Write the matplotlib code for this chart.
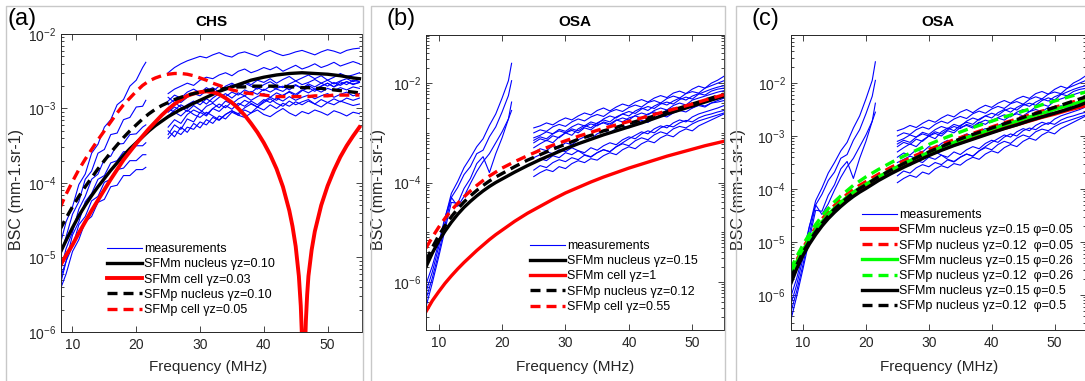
import numpy as np
import matplotlib
matplotlib.use("Agg")
import matplotlib.pyplot as plt
from matplotlib import ticker
from matplotlib.lines import Line2D
from matplotlib.transforms import Affine2D

plt.rcParams['font.family'] = ['Liberation Sans', 'DejaVu Sans']
plt.rcParams['mathtext.fontset'] = 'custom'
plt.rcParams['mathtext.rm'] = 'Liberation Sans'
plt.rcParams['mathtext.it'] = 'Liberation Sans:italic'
plt.rcParams['mathtext.bf'] = 'Liberation Sans:bold'

# ------------------------------------------------------------------ data
# all BSC values below are log10(BSC in mm-1.sr-1)
freq_ticks = [10, 20, 30, 40, 50]
freq_low = [8, 9, 10, 11, 12, 13, 14, 15, 16, 17, 18, 19, 20, 21, 21.5]
freq_high = list(range(25, 56))

# ---- panel (a) CHS
chs_low = [
    [-4.85, -4.52, -4.32, -4.02, -3.88, -3.60, -3.48, -3.25, -3.15, -2.95, -2.88, -2.70, -2.62, -2.45, -2.38],
    [-5.00, -4.72, -4.42, -4.25, -3.95, -3.84, -3.60, -3.55, -3.35, -3.33, -3.15, -3.12, -2.98, -2.97, -2.89],
    [-5.22, -4.88, -4.66, -4.35, -4.18, -3.95, -3.88, -3.68, -3.64, -3.48, -3.47, -3.35, -3.34, -3.25, -3.22],
    [-5.30, -5.05, -4.70, -4.52, -4.25, -4.14, -3.95, -3.90, -3.73, -3.70, -3.58, -3.58, -3.50, -3.50, -3.46],
    [-5.40, -5.05, -4.85, -4.56, -4.45, -4.24, -4.18, -3.99, -3.95, -3.82, -3.80, -3.70, -3.70, -3.62, -3.62],
    [-5.45, -5.22, -4.92, -4.76, -4.52, -4.45, -4.26, -4.22, -4.05, -4.03, -3.90, -3.90, -3.82, -3.82, -3.79],
]
chs_high = [
    [-2.52, -2.45, -2.40, -2.36, -2.33, -2.30, -2.32, -2.28, -2.25, -2.29, -2.31, -2.26, -2.24, -2.27, -2.30, -2.25,
     -2.22, -2.26, -2.29, -2.27, -2.24, -2.22, -2.25, -2.28, -2.24, -2.21, -2.23, -2.26, -2.22, -2.20, -2.19],
    [-2.80, -2.74, -2.70, -2.66, -2.69, -2.62, -2.58, -2.60, -2.55, -2.52, -2.56, -2.50, -2.47, -2.52, -2.49, -2.45,
     -2.48, -2.44, -2.50, -2.46, -2.42, -2.47, -2.44, -2.40, -2.45, -2.42, -2.38, -2.43, -2.40, -2.37, -2.40],
    [-2.95, -2.88, -2.92, -2.85, -2.80, -2.83, -2.76, -2.72, -2.78, -2.70, -2.66, -2.71, -2.64, -2.68, -2.62, -2.65,
     -2.60, -2.66, -2.61, -2.57, -2.63, -2.59, -2.55, -2.60, -2.56, -2.62, -2.58, -2.53, -2.57, -2.55, -2.52],
    [-3.10, -3.02, -2.95, -3.00, -2.92, -2.88, -2.94, -2.86, -2.80, -2.84, -2.78, -2.82, -2.75, -2.79, -2.72, -2.76,
     -2.70, -2.74, -2.77, -2.71, -2.68, -2.73, -2.69, -2.74, -2.70, -2.66, -2.71, -2.67, -2.64, -2.68, -2.65],
    [-3.25, -3.15, -3.20, -3.08, -3.02, -3.06, -2.97, -2.93, -2.99, -2.90, -2.94, -2.87, -2.83, -2.89, -2.84, -2.80,
     -2.85, -2.79, -2.83, -2.77, -2.81, -2.75, -2.79, -2.74, -2.78, -2.73, -2.76, -2.72, -2.75, -2.71, -2.73],
    [-3.35, -3.22, -3.28, -3.14, -3.18, -3.05, -3.10, -3.00, -3.04, -2.96, -3.01, -2.93, -2.97, -2.90, -2.95, -2.88,
     -2.92, -2.86, -2.90, -2.84, -2.89, -2.85, -2.82, -2.87, -2.83, -2.80, -2.85, -2.81, -2.78, -2.83, -2.80],
    [-3.00, -3.05, -3.10, -3.02, -3.08, -3.12, -3.05, -3.10, -3.15, -3.08, -3.03, -3.09, -3.12, -3.06, -3.02, -3.08,
     -3.11, -3.05, -3.00, -3.06, -3.10, -3.04, -3.07, -3.02, -3.05, -3.09, -3.03, -3.06, -3.10, -3.05, -3.07],
    [-2.85, -2.92, -2.98, -3.04, -2.96, -3.02, -3.08, -3.00, -2.94, -2.99, -2.91, -2.96, -2.89, -2.93, -2.98, -2.92,
     -2.87, -2.93, -2.97, -2.90, -2.95, -2.91, -2.88, -2.94, -2.98, -2.92, -2.95, -2.90, -2.93, -2.96, -2.94],
    [-3.40, -3.30, -3.35, -3.25, -3.28, -3.18, -3.22, -3.12, -3.16, -3.08, -3.03, -3.07, -2.99, -2.94, -2.98, -2.90,
     -2.85, -2.89, -2.82, -2.78, -2.83, -2.76, -2.72, -2.77, -2.70, -2.66, -2.71, -2.64, -2.68, -2.62, -2.64],
    [-2.90, -2.82, -2.86, -2.78, -2.74, -2.79, -2.72, -2.77, -2.70, -2.74, -2.68, -2.72, -2.66, -2.70, -2.74, -2.68,
     -2.64, -2.69, -2.72, -2.67, -2.63, -2.68, -2.65, -2.61, -2.66, -2.62, -2.67, -2.63, -2.60, -2.64, -2.61],
    [-3.30, -3.38, -3.25, -3.32, -3.20, -3.26, -3.15, -3.20, -3.10, -3.14, -3.05, -3.09, -3.02, -3.06, -2.98, -3.02,
     -2.95, -3.00, -2.93, -2.97, -2.91, -2.95, -2.90, -2.94, -2.88, -2.92, -2.87, -2.91, -2.86, -2.89, -2.86],
    [-3.05, -2.98, -3.03, -2.95, -2.90, -2.95, -2.87, -2.92, -2.85, -2.80, -2.86, -2.79, -2.83, -2.77, -2.81, -2.74,
     -2.78, -2.73, -2.70, -2.75, -2.69, -2.73, -2.67, -2.71, -2.66, -2.70, -2.65, -2.69, -2.64, -2.67, -2.65],
]
freq_a = list(range(8, 56))
a_sfmm_nucleus = [-4.95, -4.77, -4.60, -4.44, -4.30, -4.17, -4.05, -3.94, -3.83, -3.73, -3.63, -3.54, -3.46, -3.38,
                  -3.30, -3.23, -3.17, -3.11, -3.06, -3.01, -2.97, -2.93, -2.89, -2.85, -2.81, -2.77, -2.74, -2.71,
                  -2.68, -2.65, -2.62, -2.60, -2.58, -2.565, -2.55, -2.54, -2.53, -2.525, -2.52, -2.525, -2.53,
                  -2.535, -2.54, -2.55, -2.56, -2.575, -2.59, -2.60]
freq_a_cell = list(range(8, 45)) + [44.5, 45, 45.5, 45.8, 46, 46.1, 46.2, 46.3, 46.4, 46.6, 46.8, 47, 47.5] \
    + list(range(48, 56))
a_sfmm_cell = [-5.12, -4.97, -4.83, -4.67, -4.52, -4.37, -4.23, -4.09, -3.95, -3.82, -3.69, -3.58, -3.47, -3.37,
               -3.27, -3.18, -3.09, -3.01, -2.94, -2.88, -2.83, -2.80, -2.78, -2.77, -2.78, -2.81, -2.86, -2.92,
               -3.00, -3.09, -3.20, -3.32, -3.46, -3.62, -3.81, -4.05, -4.37,
               -4.58, -4.85, -5.25, -5.65, -6.10, -6.60, -7.50, -6.90, -6.40, -5.85, -5.50, -5.25, -4.90,
               -4.65, -4.30, -4.04, -3.83, -3.65, -3.50, -3.37, -3.25]
a_sfmp_nucleus = [-4.63, -4.47, -4.32, -4.18, -4.05, -3.93, -3.81, -3.70, -3.59, -3.49, -3.39, -3.30, -3.22, -3.14,
                  -3.07, -3.01, -2.96, -2.92, -2.88, -2.85, -2.82, -2.80, -2.78, -2.76, -2.75, -2.74, -2.73, -2.72,
                  -2.71, -2.71, -2.70, -2.70, -2.70, -2.70, -2.70, -2.70, -2.71, -2.71, -2.72, -2.72, -2.73, -2.73,
                  -2.74, -2.75, -2.76, -2.77, -2.78, -2.79]
a_sfmp_cell = [-4.34, -4.15, -3.98, -3.82, -3.68, -3.55, -3.42, -3.30, -3.18, -3.06, -2.95, -2.86, -2.77, -2.69,
               -2.63, -2.59, -2.56, -2.54, -2.53, -2.53, -2.54, -2.56, -2.59, -2.62, -2.66, -2.69, -2.72, -2.75,
               -2.77, -2.79, -2.80, -2.81, -2.82, -2.83, -2.84, -2.84, -2.84, -2.84, -2.84, -2.84, -2.83, -2.83,
               -2.83, -2.82, -2.82, -2.82, -2.82, -2.82]

# ---- panels (b) and (c) OSA (same measurements)
osa_low = [
    [-6.20, -5.80, -5.30, -4.72, -4.22, -3.98, -3.70, -3.50, -3.28, -3.12, -2.85, -2.62, -2.30, -1.95, -1.60],
    [-6.35, -5.92, -5.42, -4.85, -4.30, -4.10, -3.84, -3.68, -3.42, -3.35, -3.08, -2.88, -2.58, -2.25, -1.95],
    [-6.50, -6.02, -5.50, -4.95, -4.40, -4.42, -4.12, -3.92, -3.62, -3.48, -3.80, -3.42, -3.10, -2.72, -2.38],
    [-6.05, -5.68, -5.22, -4.70, -4.30, -4.48, -4.28, -4.02, -3.78, -3.58, -3.42, -3.20, -2.98, -2.72, -2.55],
]
osa_high = [
    [-2.90, -2.86, -2.80, -2.84, -2.76, -2.70, -2.74, -2.66, -2.60, -2.64, -2.55, -2.50, -2.56, -2.48, -2.42, -2.46,
     -2.38, -2.33, -2.38, -2.30, -2.25, -2.29, -2.20, -2.16, -2.21, -2.12, -2.06, -2.10, -2.00, -1.94, -1.86],
    [-3.00, -2.94, -2.97, -2.88, -2.83, -2.87, -2.78, -2.72, -2.76, -2.68, -2.63, -2.67, -2.58, -2.53, -2.57, -2.49,
     -2.44, -2.48, -2.39, -2.35, -2.40, -2.31, -2.26, -2.30, -2.21, -2.17, -2.20, -2.10, -2.05, -2.00, -1.95],
    [-3.10, -3.05, -2.98, -3.02, -2.93, -2.97, -2.88, -2.82, -2.86, -2.78, -2.82, -2.72, -2.66, -2.70, -2.62, -2.57,
     -2.61, -2.52, -2.47, -2.51, -2.42, -2.38, -2.42, -2.33, -2.28, -2.32, -2.22, -2.17, -2.12, -2.08, -2.05],
    [-3.20, -3.12, -3.16, -3.06, -3.10, -3.00, -2.95, -3.00, -2.90, -2.94, -2.84, -2.80, -2.85, -2.75, -2.70, -2.74,
     -2.65, -2.60, -2.64, -2.55, -2.50, -2.54, -2.45, -2.40, -2.44, -2.34, -2.30, -2.26, -2.22, -2.18, -2.15],
    [-3.30, -3.22, -3.15, -3.20, -3.08, -3.00, -3.05, -2.92, -2.85, -2.90, -2.80, -2.74, -2.78, -2.68, -2.62, -2.66,
     -2.56, -2.50, -2.55, -2.46, -2.40, -2.44, -2.36, -2.30, -2.34, -2.26, -2.21, -2.24, -2.16, -2.12, -2.10],
    [-3.40, -3.32, -3.36, -3.26, -3.30, -3.20, -3.24, -3.14, -3.08, -3.12, -3.02, -2.96, -3.00, -2.91, -2.86, -2.90,
     -2.80, -2.75, -2.79, -2.70, -2.65, -2.68, -2.60, -2.55, -2.58, -2.50, -2.45, -2.48, -2.40, -2.35, -2.30],
    [-3.50, -3.44, -3.38, -3.42, -3.34, -3.38, -3.30, -3.36, -3.44, -3.48, -3.40, -3.34, -3.38, -3.28, -3.20, -3.12,
     -3.05, -2.98, -3.02, -2.92, -2.86, -2.90, -2.80, -2.74, -2.78, -2.68, -2.62, -2.58, -2.54, -2.50, -2.45],
    [-3.60, -3.52, -3.56, -3.46, -3.50, -3.40, -3.44, -3.36, -3.40, -3.30, -3.35, -3.26, -3.20, -3.24, -3.14, -3.08,
     -3.12, -3.02, -2.96, -3.00, -2.90, -2.85, -2.88, -2.80, -2.75, -2.78, -2.70, -2.65, -2.62, -2.58, -2.55],
    [-3.75, -3.66, -3.70, -3.60, -3.54, -3.58, -3.50, -3.54, -3.45, -3.49, -3.40, -3.34, -3.38, -3.28, -3.22, -3.26,
     -3.16, -3.10, -3.14, -3.04, -2.98, -3.02, -2.92, -2.87, -2.90, -2.82, -2.76, -2.72, -2.68, -2.64, -2.60],
    [-3.88, -3.80, -3.74, -3.78, -3.68, -3.72, -3.62, -3.56, -3.60, -3.52, -3.55, -3.46, -3.40, -3.44, -3.34, -3.28,
     -3.32, -3.22, -3.16, -3.20, -3.10, -3.04, -3.08, -2.98, -2.92, -2.96, -2.86, -2.80, -2.74, -2.68, -2.62],
    [-3.15, -3.08, -3.12, -3.02, -2.96, -3.00, -2.92, -2.96, -2.88, -2.82, -2.86, -2.78, -2.82, -2.74, -2.78, -2.70,
     -2.66, -2.70, -2.62, -2.58, -2.62, -2.54, -2.50, -2.54, -2.46, -2.50, -2.43, -2.46, -2.40, -2.38, -2.35],
]
freq_bc = [8, 9, 10, 11, 12, 13, 14, 15, 16, 17, 18, 19, 20, 22, 24, 26, 28, 30, 32, 34, 36, 38, 40, 42, 44, 46,
           48, 50, 52, 54, 55]
b_sfmm_nucleus = [-5.70, -5.42, -5.18, -4.98, -4.80, -4.64, -4.50, -4.38, -4.27, -4.17, -4.08, -4.00, -3.93, -3.79,
                  -3.66, -3.54, -3.43, -3.32, -3.22, -3.13, -3.04, -2.96, -2.88, -2.80, -2.71, -2.62, -2.54, -2.46,
                  -2.38, -2.30, -2.26]
b_sfmm_cell = [-6.60, -6.38, -6.20, -6.03, -5.88, -5.74, -5.61, -5.49, -5.37, -5.26, -5.15, -5.05, -4.96, -4.78,
               -4.62, -4.48, -4.34, -4.21, -4.10, -3.99, -3.89, -3.80, -3.71, -3.63, -3.55, -3.47, -3.40, -3.33,
               -3.26, -3.20, -3.17]
b_sfmp_nucleus = [-5.58, -5.31, -5.07, -4.87, -4.69, -4.53, -4.39, -4.27, -4.16, -4.06, -3.97, -3.89, -3.82, -3.68,
                  -3.55, -3.44, -3.33, -3.23, -3.13, -3.05, -2.96, -2.89, -2.81, -2.74, -2.66, -2.58, -2.50, -2.42,
                  -2.34, -2.26, -2.22]
b_sfmp_cell = [-5.32, -5.10, -4.90, -4.72, -4.56, -4.42, -4.29, -4.17, -4.06, -3.96, -3.87, -3.79, -3.71, -3.58,
               -3.46, -3.35, -3.25, -3.16, -3.07, -2.99, -2.91, -2.84, -2.77, -2.70, -2.63, -2.56, -2.49, -2.42,
               -2.34, -2.27, -2.23]
c_sfmm_phi005 = [-5.68, -5.42, -5.19, -4.99, -4.81, -4.65, -4.51, -4.39, -4.28, -4.18, -4.09, -4.01, -3.94, -3.80,
                 -3.67, -3.55, -3.44, -3.34, -3.25, -3.16, -3.08, -3.00, -2.92, -2.85, -2.78, -2.71, -2.64, -2.58,
                 -2.51, -2.45, -2.42]
c_sfmp_phi005 = [-5.60, -5.34, -5.11, -4.91, -4.73, -4.57, -4.43, -4.31, -4.20, -4.10, -4.01, -3.93, -3.86, -3.72,
                 -3.59, -3.47, -3.36, -3.26, -3.16, -3.07, -2.99, -2.91, -2.83, -2.75, -2.68, -2.60, -2.53, -2.46,
                 -2.39, -2.32, -2.29]
c_sfmm_phi026 = [-5.62, -5.37, -5.15, -4.95, -4.77, -4.62, -4.48, -4.36, -4.25, -4.15, -4.06, -3.98, -3.91, -3.77,
                 -3.64, -3.52, -3.41, -3.31, -3.21, -3.12, -3.03, -2.95, -2.87, -2.79, -2.72, -2.64, -2.57, -2.50,
                 -2.43, -2.36, -2.33]
c_sfmp_phi026 = [-5.52, -5.27, -5.05, -4.85, -4.67, -4.51, -4.37, -4.24, -4.13, -4.03, -3.93, -3.85, -3.77, -3.63,
                 -3.50, -3.38, -3.27, -3.16, -3.06, -2.97, -2.88, -2.80, -2.72, -2.64, -2.57, -2.49, -2.41, -2.34,
                 -2.27, -2.20, -2.17]
c_sfmm_phi05 = [-5.80, -5.50, -5.25, -5.04, -4.86, -4.70, -4.56, -4.44, -4.33, -4.23, -4.14, -4.06, -3.99, -3.84,
                -3.71, -3.59, -3.48, -3.37, -3.27, -3.18, -3.10, -3.02, -2.94, -2.86, -2.79, -2.71, -2.64, -2.57,
                -2.50, -2.42, -2.37]
c_sfmp_phi05 = [-5.70, -5.43, -5.19, -4.99, -4.81, -4.65, -4.51, -4.38, -4.27, -4.17, -4.07, -3.99, -3.92, -3.77,
                -3.64, -3.52, -3.41, -3.30, -3.20, -3.10, -3.01, -2.93, -2.85, -2.77, -2.69, -2.61, -2.54, -2.46,
                -2.38, -2.30, -2.26]

labels_a = ['measurements', 'SFMm nucleus \u03b3z=0.10', 'SFMm cell \u03b3z=0.03',
            'SFMp nucleus \u03b3z=0.10', 'SFMp cell \u03b3z=0.05']
labels_b = ['measurements', 'SFMm nucleus \u03b3z=0.15', 'SFMm cell \u03b3z=1',
            'SFMp nucleus \u03b3z=0.12', 'SFMp cell \u03b3z=0.55']
labels_c = ['measurements',
            'SFMm nucleus \u03b3z=0.15 \u03c6=0.05', 'SFMp nucleus \u03b3z=0.12  \u03c6=0.05',
            'SFMm nucleus \u03b3z=0.15 \u03c6=0.26', 'SFMp nucleus \u03b3z=0.12  \u03c6=0.26',
            'SFMm nucleus \u03b3z=0.15 \u03c6=0.5', 'SFMp nucleus \u03b3z=0.12  \u03c6=0.5']

# ------------------------------------------------------------------ figure
W, H = 1085, 381
fig = plt.figure(figsize=(W / 100, H / 100), dpi=100)
fig.patch.set_facecolor('white')
T = Affine2D().scale(1.0 / W, -1.0 / H).translate(0, 1) + fig.transFigure   # pixels from top-left
DARK = '#262626'


def bsc(v):
    return 10.0 ** np.asarray(v, dtype=float)


def make_axes(l, r, t, b):
    return fig.add_axes([l / W, (H - b) / H, (r - l) / W, (b - t) / H])


def style(ax, xlim, ylim, majors=None):
    ax.set_yscale('log')
    ax.set_xlim(*xlim)
    ax.set_ylim(*ylim)
    ax.set_xticks(freq_ticks)
    if majors is not None:
        ax.yaxis.set_major_locator(ticker.FixedLocator(majors))
        ax.yaxis.set_minor_locator(ticker.LogLocator(base=10, subs=np.arange(1, 10), numticks=60))
    else:
        ax.yaxis.set_major_locator(ticker.LogLocator(base=10, numticks=20))
        ax.yaxis.set_minor_locator(ticker.LogLocator(base=10, subs=np.arange(2, 10), numticks=60))
    ax.yaxis.set_major_formatter(ticker.LogFormatterMathtext())
    ax.yaxis.set_minor_formatter(ticker.NullFormatter())
    ax.tick_params(which='both', direction='in', top=True, right=True, color=DARK,
                   labelcolor=DARK, labelsize=10, width=0.6)
    ax.tick_params(axis='x', which='major', length=4, pad=4.5)
    ax.tick_params(axis='y', which='major', length=4, pad=3.5)
    ax.tick_params(which='minor', length=2)
    for s in ax.spines.values():
        s.set_color(DARK)
        s.set_linewidth(0.7)


def labels(ax, title, xl_center, yl_center, title_center):
    ax.set_xlabel('Frequency (MHz)', fontsize=11, color=DARK)
    ax.xaxis.label.set_va('center')
    ax.xaxis.set_label_coords(xl_center[0], xl_center[1], transform=T)
    ax.set_ylabel('BSC (mm-1.sr-1)', fontsize=11.5, color=DARK)
    ax.yaxis.label.set_va('center')
    ax.yaxis.set_label_coords(yl_center[0], yl_center[1], transform=T)
    fig.text(title_center[0] / W, 1 - title_center[1] / H, title, fontsize=11, fontweight='bold',
             ha='center', va='center', color='black')


def legend(ax, handles, labs, x, y):
    ax.legend(handles, labs, loc='upper left', bbox_to_anchor=(x, y), bbox_transform=T, frameon=False,
              fontsize=9, handlelength=2.8, handletextpad=0.15, labelspacing=0.26, borderpad=0,
              borderaxespad=0)


LW = 2.4
DASH = (0, (3, 1.8))
MEAS = dict(color='#0000ff', lw=0.8)

# panel frames
for x0, x1 in [(6, 363), (371, 725), (736, 1200)]:
    fig.add_artist(Line2D([x0, x0, x1, x1], [H + 5, 6, 6, H + 5], transform=T, color='#c8c8c8', lw=1.0))

# ---------------- panel (a)
axa = make_axes(61, 362, 34, 332)
for c in chs_low:
    hm = axa.plot(freq_low, bsc(c), **MEAS)[0]
for c in chs_high:
    axa.plot(freq_high, bsc(c), **MEAS)
h1 = axa.plot(freq_a, bsc(a_sfmm_nucleus), color='black', lw=LW)[0]
h2 = axa.plot(freq_a_cell, bsc(a_sfmm_cell), color='red', lw=LW + 0.4)[0]
h3 = axa.plot(freq_a, bsc(a_sfmp_nucleus), color='black', lw=LW, ls=DASH)[0]
h4 = axa.plot(freq_a, bsc(a_sfmp_cell), color='red', lw=LW, ls=DASH)[0]
style(axa, (8.2, 55.4), (1e-6, 1e-2))
labels(axa, 'CHS', (208, 367), (17, 190), (211, 22))
legend(axa, [hm, h1, h2, h3, h4], labels_a, 107, 243)

# ---------------- panel (b)
axb = make_axes(426, 724, 35, 330)
for c in osa_low:
    hm = axb.plot(freq_low, bsc(c), **MEAS)[0]
for c in osa_high:
    axb.plot(freq_high, bsc(c), **MEAS)
h1 = axb.plot(freq_bc, bsc(b_sfmm_nucleus), color='black', lw=LW)[0]
h2 = axb.plot(freq_bc, bsc(b_sfmm_cell), color='red', lw=LW)[0]
h3 = axb.plot(freq_bc, bsc(b_sfmp_nucleus), color='black', lw=LW, ls=DASH)[0]
h4 = axb.plot(freq_bc, bsc(b_sfmp_cell), color='red', lw=LW, ls=DASH)[0]
style(axb, (8, 55), (10 ** -6.97, 10 ** -1.03), majors=[1e-6, 1e-4, 1e-2])
labels(axb, 'OSA', (575, 367), (379, 190), (575, 22))
legend(axb, [hm, h1, h2, h3, h4], labels_b, 530, 240)

# ---------------- panel (c)
axc = make_axes(790.5, 1086, 35, 330)
for c in osa_low:
    hm = axc.plot(freq_low, bsc(c), **MEAS)[0]
for c in osa_high:
    axc.plot(freq_high, bsc(c), **MEAS)
g1 = axc.plot(freq_bc, bsc(c_sfmm_phi005), color='red', lw=LW + 0.6)[0]
g2 = axc.plot(freq_bc, bsc(c_sfmp_phi005), color='red', lw=LW, ls=DASH)[0]
g3 = axc.plot(freq_bc, bsc(c_sfmm_phi026), color='#00ff00', lw=LW)[0]
g4 = axc.plot(freq_bc, bsc(c_sfmp_phi026), color='#00ff00', lw=LW, ls=DASH)[0]
g5 = axc.plot(freq_bc, bsc(c_sfmm_phi05), color='black', lw=LW)[0]
g6 = axc.plot(freq_bc, bsc(c_sfmp_phi05), color='black', lw=LW, ls=DASH)[0]
style(axc, (8, 55), (10 ** -6.66, 10 ** -1.094))
labels(axc, 'OSA', (939, 367), (739, 190), (938, 22))
legend(axc, [hm, g1, g2, g3, g4, g5, g6], labels_c, 862, 209)

# panel letters
for x, s in [(22, '(a)'), (401, '(b)'), (765, '(c)')]:
    fig.text(x / W, 1 - 19 / H, s, fontsize=17, ha='center', va='center', color='black')

fig.savefig('out.png', dpi=100, facecolor='white')
